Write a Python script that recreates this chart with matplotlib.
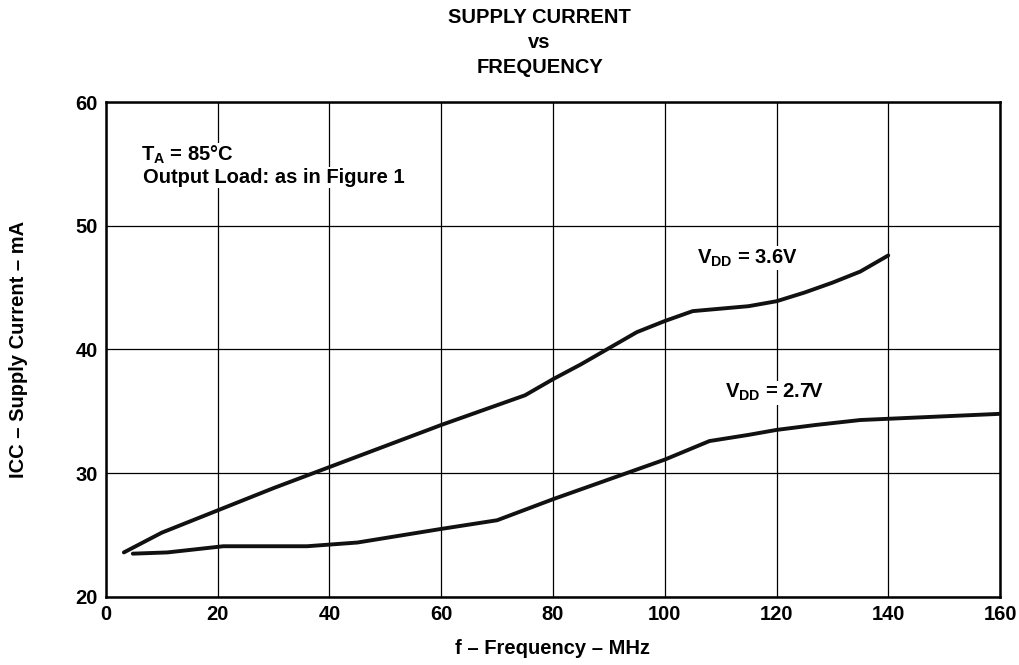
import numpy as np
import matplotlib
matplotlib.use("Agg")
import matplotlib.pyplot as plt

plt.rcParams["font.family"] = ["Liberation Sans", "DejaVu Sans"]
plt.rcParams["font.weight"] = "bold"
plt.rcParams["mathtext.fontset"] = "custom"
plt.rcParams["mathtext.rm"] = "Liberation Sans:bold"
plt.rcParams["mathtext.default"] = "rm"

# VDD = 3.6 V curve
f_36 = [3.2, 10, 20, 30, 40, 50, 60, 70, 75, 80, 85, 90, 95, 100, 105, 110, 115, 120, 125, 130, 135, 140]
icc_36 = [23.6, 25.2, 27.0, 28.8, 30.5, 32.2, 33.9, 35.5, 36.3, 37.6, 38.8, 40.1, 41.4, 42.3, 43.1, 43.3, 43.5, 43.9, 44.6, 45.4, 46.3, 47.6]

# VDD = 2.7 V curve
f_27 = [4.8, 11, 21, 36, 45, 60, 70, 80, 90, 100, 108, 115, 120, 127, 135, 145, 160]
icc_27 = [23.5, 23.6, 24.1, 24.1, 24.4, 25.5, 26.2, 27.9, 29.5, 31.1, 32.6, 33.1, 33.5, 33.9, 34.3, 34.5, 34.8]

x_ticks = [0, 20, 40, 60, 80, 100, 120, 140, 160]
y_ticks = [20, 30, 40, 50, 60]

fs = 14.5

fig = plt.figure(figsize=(10.2, 6.65), dpi=100)
ax = fig.add_axes([0.1039, 0.1023, 0.8765, 0.7443])

ax.plot(f_36, icc_36, color="#111111", lw=2.8, solid_capstyle="round", zorder=3)
ax.plot(f_27, icc_27, color="#111111", lw=2.8, solid_capstyle="round", zorder=3)

ax.set_xlim(0, 160)
ax.set_ylim(20, 60)
ax.set_xticks(x_ticks)
ax.set_yticks(y_ticks)
ax.grid(True, color="black", lw=0.9, zorder=1)
ax.set_axisbelow(True)
ax.tick_params(length=0, labelsize=fs, pad=6)
for s in ax.spines.values():
    s.set_linewidth(1.8)

ax.set_xlabel("f – Frequency – MHz", fontsize=fs, fontweight="bold")
ax.set_ylabel("ICC – Supply Current – mA", fontsize=fs, fontweight="bold")
ax.xaxis.set_label_coords(0.5, -0.085)
ax.yaxis.set_label_coords(-0.087, 0.5)

fig.text(0.529, 0.988, "SUPPLY CURRENT\nvs\nFREQUENCY", ha="center", va="top",
         fontsize=fs, fontweight="bold", linespacing=1.4)

box = dict(facecolor="white", edgecolor="none", pad=1)
ax.text(6.3, 55.7, "T$_A$ = 85°C", fontsize=fs, fontweight="bold", va="center", bbox=box)
ax.text(6.6, 53.9, "Output Load: as in Figure 1", fontsize=fs, fontweight="bold", va="center", bbox=box)
ax.text(105.8, 47.4, "V$_{DD}$ = 3.6V", fontsize=fs, fontweight="bold", va="center", bbox=box)
ax.text(110.8, 36.5, "V$_{DD}$ = 2.7V", fontsize=fs, fontweight="bold", va="center", bbox=box)

fig.savefig("out.png", dpi=100)
